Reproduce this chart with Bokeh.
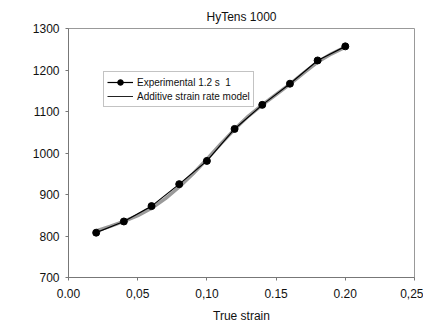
from bokeh.plotting import figure
from bokeh.models import Range1d, FixedTicker, Legend, LegendItem, CustomJSTickFormatter
from bokeh.embed import file_html
from bokeh.resources import INLINE

# Data
exp_strain = [0.02, 0.04, 0.06, 0.08, 0.10, 0.12, 0.14, 0.16, 0.18, 0.20]
exp_stress = [808, 835, 872, 925, 981, 1058, 1116, 1167, 1223, 1257]

model_strain = [0.02, 0.03, 0.04, 0.05, 0.06, 0.07, 0.08, 0.09, 0.10, 0.11,
                0.12, 0.13, 0.14, 0.15, 0.16, 0.17, 0.18, 0.19, 0.20]
model_stress = [812, 823, 835, 849, 867, 890, 918, 950, 985, 1022,
                1057, 1089, 1116, 1141, 1166, 1193, 1219, 1239, 1255]

x_ticks = [0.0, 0.05, 0.10, 0.15, 0.20, 0.25]
x_tick_labels = ["0.00", "0,05", "0,10", "0.15", "0.20", "0,25"]
y_ticks = [700, 800, 900, 1000, 1100, 1200, 1300]

FONT = "Liberation Sans"

p = figure(width=423, height=328, output_backend="svg", toolbar_location=None,
           x_range=Range1d(0, 0.25), y_range=Range1d(700, 1300),
           title="HyTens 1000", min_border_left=68, min_border_right=9,
           min_border_top=28, min_border_bottom=51)

p.title.align = "center"
p.title.text_font = FONT
p.title.text_font_size = "12px"
p.title.text_font_style = "normal"
p.title.text_color = "#111111"

p.grid.visible = False
p.outline_line_color = "#999999"
p.outline_line_width = 1
p.background_fill_color = "white"
p.border_fill_color = "white"

for ax in (p.xaxis[0], p.yaxis[0]):
    ax.axis_line_color = "#777777"
    ax.major_tick_line_color = "#777777"
    ax.major_tick_out = 3
    ax.major_tick_in = 0
    ax.minor_tick_line_color = None
    ax.major_label_text_font = FONT
    ax.major_label_text_font_size = "12px"
    ax.major_label_text_color = "#111111"

p.xaxis.ticker = FixedTicker(ticks=x_ticks)
p.xaxis.formatter = CustomJSTickFormatter(
    args=dict(lbls=x_tick_labels, tvals=x_ticks),
    code="""
    let best = 0;
    for (let i = 0; i < tvals.length; i++) {
        if (Math.abs(tvals[i] - tick) < Math.abs(tvals[best] - tick)) best = i;
    }
    return lbls[best];
    """)
p.xaxis.major_label_standoff = 8
p.yaxis.ticker = FixedTicker(ticks=y_ticks)
p.yaxis.major_label_standoff = 6

p.xaxis.axis_label = "True strain"
p.xaxis.axis_label_text_font = FONT
p.xaxis.axis_label_text_font_size = "12px"
p.xaxis.axis_label_text_font_style = "normal"
p.xaxis.axis_label_text_color = "#111111"
p.xaxis.axis_label_standoff = 8

model = p.line(model_strain, model_stress, line_color="#9a9a9a", line_width=3.5)
exp_line = p.line(exp_strain, exp_stress, line_color="black", line_width=1.2)
exp_pts = p.scatter(exp_strain, exp_stress, size=7, color="black")

# legend-only renderer for a thin dark model line swatch
model_leg = p.line([float("nan")], [float("nan")], line_color="#222222", line_width=1)

legend = Legend(items=[
    LegendItem(label="Experimental 1.2 s  1", renderers=[exp_line, exp_pts]),
    LegendItem(label="Additive strain rate model", renderers=[model_leg]),
], location=(35, 170))
legend.label_text_font = FONT
legend.label_text_font_size = "10px"
legend.label_text_color = "#111111"
legend.border_line_color = "#888888"
legend.border_line_width = 1
legend.background_fill_color = "white"
legend.background_fill_alpha = 1
legend.padding = 3
legend.spacing = 0
legend.margin = 0
legend.glyph_width = 26
legend.glyph_height = 14
legend.label_height = 14
legend.label_standoff = 4
p.add_layout(legend, "center")

open("out.html", "w").write(file_html(p, INLINE))
